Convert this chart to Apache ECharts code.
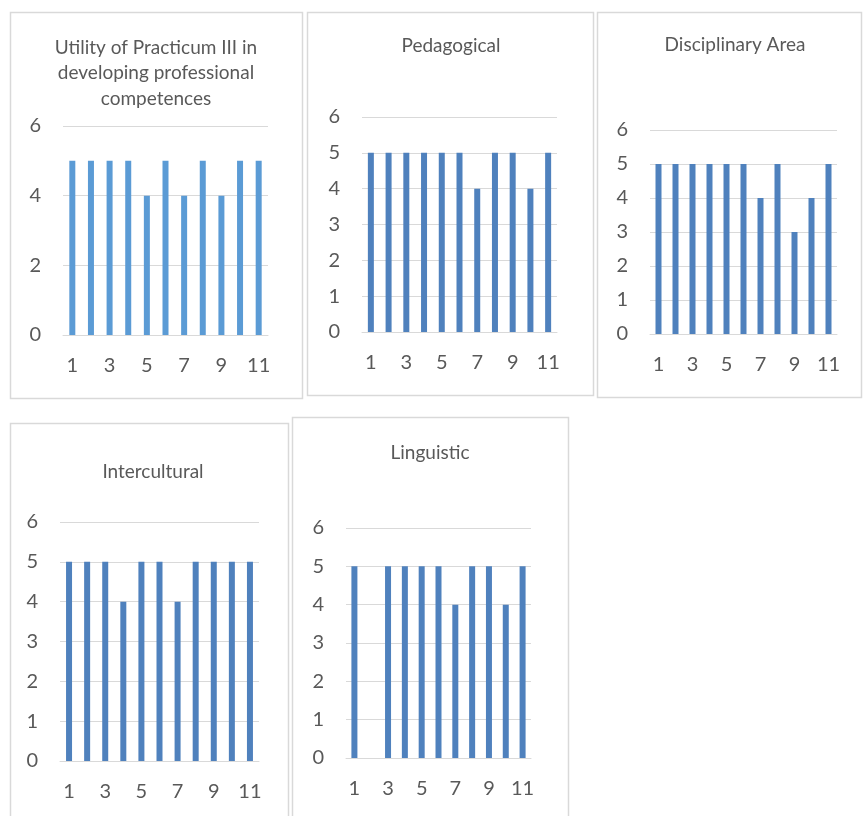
<!DOCTYPE html>
<html>
<head>
<meta charset="utf-8">
<script src="https://cdn.jsdelivr.net/npm/echarts@6/dist/echarts.min.js"></script>
<style>
  html, body { margin: 0; padding: 0; background: #ffffff; }
  #chart { width: 863px; height: 816px; }
</style>
</head>
<body>
<div id="chart"></div>
<script>
// Survey respondents (1..11) and their ratings per competence area
const categories = ['1', '2', '3', '4', '5', '6', '7', '8', '9', '10', '11'];
const utilityValues = [5, 5, 5, 5, 4, 5, 4, 5, 4, 5, 5];
const pedagogicalValues = [5, 5, 5, 5, 5, 5, 4, 5, 5, 4, 5];
const disciplinaryValues = [5, 5, 5, 5, 5, 5, 4, 5, 3, 4, 5];
const interculturalValues = [5, 5, 5, 4, 5, 5, 4, 5, 5, 5, 5];
const linguisticValues = [5, 0, 5, 5, 5, 5, 4, 5, 5, 4, 5];

const panelTitles = [
  'Utility of Practicum III in\ndeveloping professional\ncompetences',
  'Pedagogical',
  'Disciplinary Area',
  'Intercultural',
  'Linguistic'
];
const panelValues = [utilityValues, pedagogicalValues, disciplinaryValues, interculturalValues, linguisticValues];
const yAxisMax = 6;
const yTickSteps = [2, 1, 1, 1, 1];

// Layout of the five small-multiple panels (frame, plot area, title anchor)
const layout = [
  { frame: [10, 12, 292, 386], grid: [63, 126, 205, 209], title: [156, 35], color: '#5B9BD5' },
  { frame: [307, 12, 286, 383], grid: [362, 117, 195, 215], title: [451, 33], color: '#4F81BD' },
  { frame: [597, 12, 264, 385], grid: [650, 130, 187, 204], title: [735, 32], color: '#4F81BD' },
  { frame: [10, 423, 278, 400], grid: [60, 522, 199, 239], title: [153, 459], color: '#4F81BD' },
  { frame: [292, 417, 276, 400], grid: [346, 528, 185, 230], title: [430, 440], color: '#4F81BD' }
];

const textColor = '#595959';
const lineColor = '#D9D9D9';
const fontFamily = 'Lato, "Open Sans", sans-serif';

const grids = [], xAxes = [], yAxes = [], series = [], titles = [], frames = [];

layout.forEach((p, i) => {
  grids.push({ left: p.grid[0], top: p.grid[1], width: p.grid[2], height: p.grid[3], containLabel: false });
  xAxes.push({
    type: 'category', gridIndex: i, data: categories,
    axisLine: { show: true, lineStyle: { color: lineColor, width: 1 } },
    axisTick: { show: false },
    axisLabel: { interval: 1, color: textColor, fontSize: 20, fontFamily: fontFamily, margin: 21 }
  });
  yAxes.push({
    type: 'value', gridIndex: i, min: 0, max: yAxisMax, interval: yTickSteps[i],
    axisLine: { show: false }, axisTick: { show: false },
    axisLabel: { color: textColor, fontSize: 20, fontFamily: fontFamily, margin: 22 },
    splitLine: { show: true, lineStyle: { color: lineColor, width: 1 } }
  });
  series.push({
    type: 'bar', xAxisIndex: i, yAxisIndex: i, data: panelValues[i],
    barWidth: 6, itemStyle: { color: p.color }, silent: true
  });
  titles.push({
    text: panelTitles[i], left: p.title[0], top: p.title[1], textAlign: 'center', padding: 0,
    textStyle: { color: textColor, fontSize: 19, fontWeight: 'normal', fontFamily: fontFamily, lineHeight: 25.5 }
  });
  frames.push({
    type: 'rect', silent: true, z: -1,
    shape: { x: p.frame[0] + 0.5, y: p.frame[1] + 0.5, width: p.frame[2], height: p.frame[3] },
    style: { fill: '#ffffff', stroke: lineColor, lineWidth: 1.5 }
  });
});

const chart = echarts.init(document.getElementById('chart'), null, { renderer: 'canvas' });
chart.setOption({
  animation: false,
  backgroundColor: '#ffffff',
  title: titles,
  grid: grids,
  xAxis: xAxes,
  yAxis: yAxes,
  series: series,
  graphic: frames
});
</script>
</body>
</html>
